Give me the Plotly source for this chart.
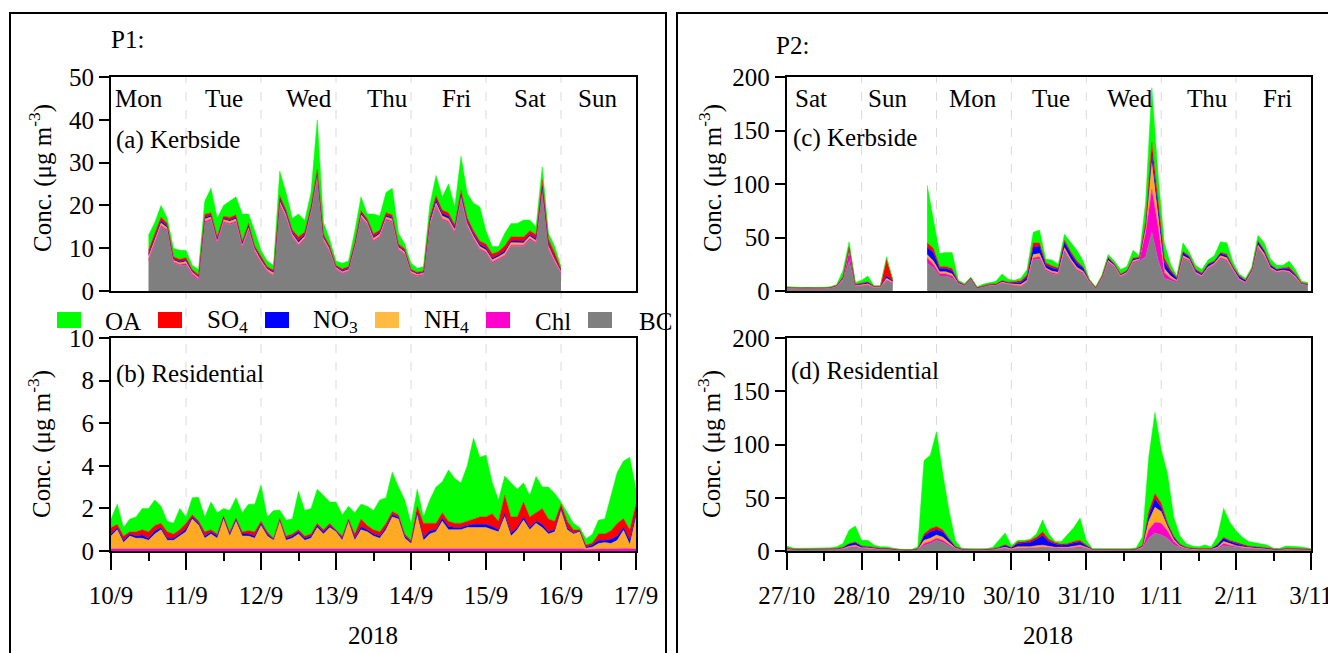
import plotly.graph_objects as go
import pandas as pd

W, H = 1328, 653
FONT = "Liberation Serif"

# ---------------- DATA ----------------
SPECIES = ["OA", "SO4", "NO3", "NH4", "Chl", "BC"]
COLORS = {"OA": "#00FF00", "SO4": "#FF0000", "NO3": "#0000FF",
          "NH4": "#FFAA22", "Chl": "#FF00CC", "BC": "#7F7F7F"}
LEGEND_COLORS = {"OA": "#00FF00", "SO4": "#FF0000", "NO3": "#0000FF",
                 "NH4": "#FFBB44", "Chl": "#FF00CC", "BC": "#7F7F7F"}
LEGEND_TEXT = ["OA", "SO<sub>4</sub>", "NO<sub>3</sub>", "NH<sub>4</sub>", "Chl", "BC"]

P1_DAYS = ["Mon", "Tue", "Wed", "Thu", "Fri", "Sat", "Sun"]
P2_DAYS = ["Sat", "Sun", "Mon", "Tue", "Wed", "Thu", "Fri"]
P1_TICKS = ["10/9", "11/9", "12/9", "13/9", "14/9", "15/9", "16/9", "17/9"]
P2_TICKS = ["27/10", "28/10", "29/10", "30/10", "31/10", "1/11", "2/11", "3/11"]
P1_TICKDATES = ["2018-09-%02d" % d for d in range(10, 18)]
P2_TICKDATES = ["2018-10-27", "2018-10-28", "2018-10-29", "2018-10-30",
                "2018-10-31", "2018-11-01", "2018-11-02", "2018-11-03"]

# (a) P1 kerbside, 2-hourly from 10/9 12:00
A_START = "2018-09-10 12:00"
A_BC = [7, 11, 15, 14, 6.5, 6,
        6, 3.5, 2.5, 16, 16.5, 11, 16, 15.5, 16, 10, 14, 9,
        6.5, 4.5, 3.5, 20, 17, 12.5, 10.5, 12, 18, 26, 11.5, 9,
        5, 4, 4.5, 10, 17, 15.5, 11.5, 12.5, 16.5, 16, 9.6, 8.5,
        4, 3.4, 3.7, 15, 19.7, 16.6, 16, 13.5, 21, 15, 12, 9.6,
        8.8, 6.5, 7.2, 8, 10.4, 10.4, 10.4, 12, 11, 23, 9.6, 6.5,
        4.1]
A_SO4 = [0.9, 0.8, 0.9, 0.6, 0.5, 0.5,
         0.6, 0.4, 0.4, 0.7, 0.6, 0.6, 0.5, 0.6, 0.6, 0.6, 0.6, 0.5,
         0.5, 0.4, 0.4, 0.8, 0.7, 0.6, 0.9, 0.6, 0.6, 0.7, 0.6, 0.5,
         0.3, 0.4, 0.4, 0.5, 0.6, 0.5, 0.7, 0.5, 0.6, 0.6, 0.5, 0.5,
         0.3, 0.3, 0.3, 0.8, 0.9, 0.8, 0.8, 0.7, 0.9, 0.8, 0.8, 0.8,
         0.9, 1.0, 0.8, 1.2, 1.0, 0.9, 1.0, 0.9, 1.0, 1.6, 1.2, 1.3,
         0.4]
A_NO3 = [0.5, 0.5, 0.5, 0.4, 0.3, 0.3,
         0.3, 0.2, 0.2, 0.4, 0.4, 0.3, 0.3, 0.3, 0.4, 0.3, 0.4, 0.3,
         0.3, 0.2, 0.3, 0.6, 0.5, 0.4, 0.5, 0.4, 0.5, 0.6, 0.4, 0.3,
         0.2, 0.3, 0.3, 0.3, 0.4, 0.3, 0.4, 0.4, 0.4, 0.4, 0.3, 0.3,
         0.2, 0.2, 0.2, 0.6, 0.8, 0.6, 0.6, 0.5, 0.7, 0.5, 0.5, 0.5,
         0.5, 0.4, 0.4, 0.5, 0.4, 0.4, 0.4, 0.4, 0.4, 0.5, 0.4, 0.3,
         0.2]
A_NH4 = [0.7, 0.6, 0.6, 0.5, 0.4, 0.4,
         0.5, 0.4, 0.4, 0.5, 0.5, 0.5, 0.5, 0.5, 0.5, 0.5, 0.5, 0.5,
         0.4, 0.4, 0.5, 0.6, 0.5, 0.5, 0.5, 0.5, 0.5, 0.7, 0.5, 0.4,
         0.3, 0.3, 0.3, 0.4, 0.5, 0.4, 0.5, 0.5, 0.5, 0.5, 0.4, 0.4,
         0.4, 0.3, 0.3, 0.5, 0.6, 0.6, 0.6, 0.5, 0.6, 0.5, 0.5, 0.5,
         0.5, 0.5, 0.5, 0.6, 0.6, 0.6, 0.5, 0.5, 0.5, 0.6, 0.6, 0.5,
         0.3]
A_CHL = [0.4, 0.3, 0.3, 0.3, 0.3, 0.2,
         0.4, 0.5, 0.3, 0.3, 0.3, 0.3, 0.2, 0.3, 0.3, 0.3, 0.3, 0.3,
         0.3, 0.2, 0.2, 0.3, 0.3, 0.3, 0.3, 0.3, 0.3, 0.4, 0.3, 0.3,
         0.2, 0.2, 0.2, 0.2, 0.3, 0.2, 0.3, 0.3, 0.3, 0.3, 0.2, 0.2,
         0.2, 0.2, 0.2, 0.3, 0.3, 0.3, 0.3, 0.3, 0.3, 0.3, 0.3, 0.3,
         0.3, 0.3, 0.3, 0.3, 0.3, 0.3, 0.3, 0.3, 0.3, 0.3, 0.3, 0.3,
         0.2]
A_OA = [3.5, 2.8, 2.7, 1.2, 2.0, 2.1,
        1.7, 1.0, 1.2, 3.1, 5.7, 4.3, 2.5, 3.8, 4.2, 6.3, 2.2, 3.4,
        1.5, 1.3, 1.1, 5.7, 4.0, 2.7, 5.3, 2.7, 3.1, 11.6, 2.7, 1.5,
        1.0, 1.3, 1.3, 2.6, 3.2, 1.1, 4.6, 3.3, 4.7, 6.2, 2.5, 1.1,
        1.4, 0.9, 1.0, 2.8, 4.7, 3.1, 6.7, 4.2, 8.0, 5.7, 6.4, 8.0,
        3.0, 1.7, 1.2, 2.9, 3.1, 3.2, 4.0, 2.5, 1.8, 3.0, 1.4, 1.5,
        0.5]

# (b) P1 residential, 2-hourly from 10/9 00:00
B_START = "2018-09-10 00:00"
B_OA = [0.4, 0.95, 0.4, 0.6, 0.7, 1.0, 1.1, 1.2, 0.8, 0.5, 0.5, 1.0,
        0.3, 0.8, 1.1, 0.7, 1.3, 1.0, 0.35, 1.0, 0.95, 0.9, 1.25, 1.3,
        1.7, 0.7, 1.3, 0.4, 0.75, 0.7, 1.8, 1.2, 1.2, 1.6, 1.6, 1.0,
        1.3, 1.0, 0.6, 1.0, 0.7, 0.9, 0.9, 1.5, 1.2, 1.85, 1.3, 1.6,
        0.8, 0.8, 0.3, 1.1, 1.7, 1.45, 2.4, 2.1, 1.9, 2.6, 3.8, 2.8,
        2.9, 1.45, 1.0, 0.9, 1.6, 1.3, 0.9, 1.0, 1.7, 1.0, 1.5, 1.3,
        0.1, 0.4, 0.3, 0.1, 0.3, 0.4, 0.65, 0.7, 1.65, 2.4, 2.7, 3.4,
        0.7]
B_SO4 = [0.3, 0.15, 0.2, 0.1, 0.2, 0.25, 0.3, 0.25, 0.2, 0.3, 0.2, 0.2,
         0.25, 0.1, 0.1, 0.2, 0.1, 0.1, 0.05, 0.1, 0.05, 0.1, 0.15, 0.2,
         0.1, 0.1, 0.05, 0.05, 0.1, 0.1, 0.1, 0.1, 0.1, 0.1, 0.1, 0.1,
         0.05, 0.1, 0.05, 0.2, 0.35, 0.2, 0.2, 0.2, 0.2, 0.15, 0.1, 0.1,
         0.1, 0.3, 0.65, 0.35, 0.3, 0.25, 0.25, 0.2, 0.2, 0.2, 0.25, 0.35,
         0.35, 0.6, 0.4, 0.85, 0.75, 0.5, 0.7, 0.5, 0.4, 0.75, 0.6, 0.4,
         0.2, 0.3, 0.15, 0.05, 0.1, 0.1, 0.3, 0.3, 0.4, 0.6, 0.4, 0.5,
         0.45]
B_NO3 = [0.1, 0.1, 0.1, 0.1, 0.1, 0.15, 0.1, 0.15, 0.1, 0.1, 0.1, 0.1,
         0.15, 0.1, 0.1, 0.1, 0.1, 0.1, 0.1, 0.1, 0.1, 0.1, 0.1, 0.1,
         0.1, 0.1, 0.05, 0.05, 0.1, 0.1, 0.1, 0.1, 0.1, 0.1, 0.1, 0.1,
         0.05, 0.1, 0.05, 0.1, 0.15, 0.1, 0.1, 0.1, 0.1, 0.1, 0.1, 0.1,
         0.05, 0.1, 0.15, 0.15, 0.1, 0.15, 0.15, 0.1, 0.1, 0.1, 0.15, 0.15,
         0.15, 0.15, 0.1, 0.15, 0.15, 0.1, 0.15, 0.1, 0.1, 0.15, 0.1, 0.1,
         0.1, 0.1, 0.05, 0.05, 0.05, 0.1, 0.15, 0.1, 0.2, 0.2, 0.15, 0.2,
         0.15]
B_NH4 = [0.6, 0.9, 0.3, 0.6, 0.5, 0.5, 0.4, 0.7, 0.9, 0.4, 0.4, 0.6,
         0.8, 1.4, 1.1, 0.5, 0.7, 0.5, 1.4, 0.6, 1.3, 0.6, 0.6, 0.5,
         1.1, 0.6, 0.4, 1.3, 0.4, 0.5, 0.7, 0.4, 0.5, 1.0, 0.7, 1.0,
         0.8, 0.4, 1.3, 0.4, 0.9, 0.8, 0.6, 0.5, 0.9, 1.5, 1.4, 0.5,
         0.25, 1.6, 0.4, 0.7, 0.8, 1.3, 0.9, 0.9, 0.9, 1.0, 1.0, 1.0,
         1.0, 0.9, 0.8, 1.5, 0.6, 0.9, 1.35, 0.9, 1.2, 1.0, 0.7, 0.8,
         1.8, 0.9, 0.7, 0.8, 0.05, 0.1, 0.25, 0.3, 0.25, 0.4, 0.85, 0.2,
         1.5]
B_CHL = [0.1, 0.1, 0.1, 0.1, 0.1, 0.1, 0.1, 0.1, 0.1, 0.1, 0.1, 0.1,
         0.1, 0.1, 0.12, 0.1, 0.1, 0.1, 0.1, 0.1, 0.1, 0.1, 0.1, 0.1,
         0.1, 0.1, 0.1, 0.12, 0.1, 0.1, 0.1, 0.1, 0.1, 0.1, 0.1, 0.1,
         0.1, 0.1, 0.1, 0.1, 0.1, 0.1, 0.1, 0.1, 0.1, 0.1, 0.1, 0.1,
         0.1, 0.1, 0.1, 0.1, 0.1, 0.1, 0.1, 0.1, 0.1, 0.1, 0.1, 0.1,
         0.1, 0.1, 0.1, 0.12, 0.1, 0.1, 0.1, 0.1, 0.1, 0.1, 0.1, 0.1,
         0.1, 0.1, 0.1, 0.1, 0.08, 0.08, 0.1, 0.1, 0.1, 0.1, 0.12, 0.1,
         0.1]

# (c) P2 kerbside, segment 1: 2-hourly from 27/10 00:00
C1_START = "2018-10-27 00:00"
C1_BC = [2.5, 2.5, 2.2, 2.0, 2.0, 2.0, 2.2, 2.5, 4.0, 9.0, 28, 4, 4.5, 5, 3, 3, 9, 7]
C1_CHL = [0.2, 0.2, 0.2, 0.2, 0.2, 0.2, 0.2, 0.2, 0.3, 1.0, 9, 0.5, 0.5, 0.7, 0.3, 0.3, 1, 0.5]
C1_NH4 = [0.3, 0.3, 0.2, 0.2, 0.2, 0.2, 0.2, 0.3, 0.4, 1.0, 2, 0.6, 0.8, 1.0, 0.4, 0.4, 2, 1]
C1_NO3 = [0.3, 0.3, 0.3, 0.2, 0.2, 0.2, 0.3, 0.3, 0.4, 1.5, 1.5, 0.8, 1.0, 1.5, 0.5, 0.5, 2, 1]
C1_SO4 = [0.2, 0.2, 0.1, 0.1, 0.1, 0.1, 0.1, 0.2, 0.2, 0.5, 1, 0.3, 0.4, 0.5, 0.3, 0.3, 15, 0.5]
C1_OA = [0.5, 0.5, 0.5, 0.3, 0.3, 0.3, 0.5, 0.5, 0.7, 6.0, 4.5, 1.8, 2.8, 5.3, 0.5, 0.5, 3, 1]

# (c) P2 kerbside, segment 2: 2-hourly from 28/10 21:00
C2_START = "2018-10-28 21:00"
C2_BC = [26, 22, 14, 14, 12, 6, 4.5, 11, 2.5, 4, 5, 5, 7, 6, 5, 4, 8, 29, 30, 19,
         16, 15, 36, 27, 19, 16, 8, 2.5, 11, 26, 22, 13, 16, 26, 28, 32, 55, 29, 12, 10,
         8, 30, 28, 16, 13, 21, 24, 30, 28, 19, 10, 7, 17, 40, 32, 20, 17, 18, 17, 12,
         5.5, 5]
C2_CHL = [5, 3, 2, 2, 2, 0.5, 0.3, 0.3, 0.2, 0.3, 0.3, 0.3, 0.5, 0.4, 0.5, 0.5, 0.5, 2, 2, 1,
          1, 1, 1.5, 1, 1, 1, 0.5, 0.2, 0.5, 1, 0.8, 0.5, 0.6, 1, 1, 22, 40, 31, 5, 2,
          1, 1, 0.8, 0.5, 0.5, 0.5, 0.8, 1, 1, 0.8, 0.5, 0.4, 0.5, 1, 1, 0.8, 0.5, 0.5, 0.5, 0.5,
          0.3, 0.3]
C2_NH4 = [3, 3, 2, 2, 2, 0.8, 0.3, 0.3, 0.2, 0.3, 0.4, 0.4, 0.8, 0.6, 1, 1.5, 1.5, 3, 3, 1.5,
          1.5, 1.5, 3, 2, 2, 1.5, 0.5, 0.2, 0.8, 1.5, 1, 1, 1, 1.5, 1, 4.5, 25, 12.5, 4, 2,
          1, 2, 1, 1, 1, 1, 1.2, 2, 2, 1, 1, 0.8, 1, 2, 2, 1.2, 1, 1, 1, 1,
          0.5, 0.4]
C2_NO3 = [7, 8, 3, 3, 3, 1, 0.4, 0.3, 0.2, 0.3, 0.4, 0.5, 1, 0.8, 1, 2, 3, 7, 7, 3,
          3, 2.5, 5, 5, 4, 3, 0.8, 0.2, 0.8, 2, 1.2, 1, 1, 1.5, 1, 3, 8, 6, 6, 4,
          2, 3, 2, 2, 1.5, 2, 1.5, 2, 2, 1.5, 2, 1.5, 1, 3, 2.5, 2, 1.5, 1.5, 2, 1.5,
          0.8, 0.6]
C2_SO4 = [4, 4, 2, 2, 2, 0.5, 0.3, 0.3, 0.2, 0.3, 0.3, 0.3, 0.5, 0.4, 1.2, 1.5, 2, 4, 3, 2,
          2, 1.5, 2, 2, 2, 1, 0.4, 0.2, 0.4, 1, 0.5, 0.5, 0.5, 1, 0.5, 3, 11, 6, 4, 2,
          0.5, 1, 1, 1, 0.8, 1, 0.5, 1, 1.5, 0.7, 1, 0.5, 0.5, 1, 1, 1, 0.5, 0.5, 2, 1,
          0.4, 0.3]
C2_OA = [54, 25, 12, 13, 15, 1.2, 1.2, 0.8, 0.7, 1.3, 1.6, 2.5, 6.2, 2.8, 1.3, 2.5, 5, 10, 12, 3.5,
         5.5, 3.5, 5.5, 8, 10, 5.5, 0.8, 0.7, 1.5, 2.5, 2.5, 4, 3.9, 7, 1.5, 18.5, 51, 23.5, 14, 5,
         1.5, 8, 3.2, 3.5, 3.2, 3.5, 5, 10, 10.5, 4, 1.5, 1.8, 2, 5, 6.5, 5, 3.5, 2.5, 5.5, 4,
         1.5, 1.4]

# (d) P2 residential, 2-hourly from 27/10 00:00
D_START = "2018-10-27 00:00"
D_BC = [1.5, 1.0, 1.0, 1.0, 1.0, 1.0, 1.0, 1.0, 1.2, 1.5, 3, 3, 2, 2, 1.5, 1.2, 1.2, 1.0,
        0.6, 0.6, 0.6, 1.0, 5, 7, 10, 8, 5, 2, 1, 0.8, 0.8, 0.8, 0.8, 1.0, 1.5, 2,
        1.2, 2, 2, 2, 2.5, 3, 2.5, 2, 2, 2, 2.5, 3, 2, 0.8, 0.8, 0.8, 0.8, 0.8,
        0.8, 0.8, 1.0, 2, 12, 17, 15, 12, 6, 3, 1.5, 1.2, 1.0, 1.2, 1.0, 2, 5, 4,
        3, 2.5, 2, 1.8, 1.5, 1.3, 0.8, 0.8, 1.2, 1.2, 1.0, 1.0, 0.8]
D_CHL = [0.3, 0.2, 0.2, 0.2, 0.2, 0.2, 0.2, 0.2, 0.2, 0.3, 0.5, 1, 0.5, 0.5, 0.3, 0.2, 0.2, 0.2,
         0.1, 0.1, 0.1, 0.2, 2, 2, 2, 2, 1, 0.5, 0.2, 0.2, 0.2, 0.2, 0.2, 0.2, 0.3, 0.5,
         0.3, 0.5, 0.5, 0.5, 0.5, 0.5, 0.5, 0.5, 0.5, 0.5, 0.5, 1, 0.5, 0.2, 0.2, 0.2, 0.2, 0.2,
         0.2, 0.2, 0.2, 0.8, 8, 10, 11, 7, 3, 1, 0.5, 0.3, 0.3, 0.3, 0.3, 0.5, 2, 1.5,
         1, 0.5, 0.5, 0.4, 0.4, 0.3, 0.2, 0.2, 0.3, 0.3, 0.3, 0.2, 0.2]
D_NH4 = [0.3, 0.2, 0.2, 0.2, 0.2, 0.2, 0.2, 0.2, 0.3, 0.5, 1, 1.5, 0.5, 0.5, 0.3, 0.3, 0.3, 0.2,
         0.1, 0.1, 0.1, 0.3, 3, 3, 3, 3, 2, 0.5, 0.2, 0.2, 0.2, 0.2, 0.2, 0.3, 0.5, 1,
         0.5, 1.5, 1.5, 1.5, 2, 2, 1.5, 1, 1, 1, 1.5, 1.5, 1, 0.2, 0.2, 0.2, 0.2, 0.2,
         0.2, 0.2, 0.3, 1, 8, 14, 11, 4, 2, 1, 0.5, 0.3, 0.3, 0.3, 0.3, 1, 2, 1.5,
         1, 1, 0.7, 0.6, 0.5, 0.4, 0.2, 0.2, 0.3, 0.3, 0.3, 0.3, 0.2]
D_NO3 = [0.5, 0.3, 0.3, 0.3, 0.3, 0.3, 0.3, 0.4, 0.5, 1.0, 2, 2.5, 1.5, 1, 0.8, 0.6, 0.6, 0.4,
         0.3, 0.2, 0.2, 0.5, 4, 6, 5, 5, 3, 1, 0.4, 0.3, 0.3, 0.3, 0.3, 0.5, 1.0, 2,
         1, 3, 3.5, 4, 6, 9, 4.5, 3, 2, 2.5, 3, 3, 1.5, 0.4, 0.4, 0.3, 0.3, 0.3,
         0.3, 0.3, 0.4, 1, 5, 8, 4, 2, 2, 1, 0.7, 0.5, 0.5, 0.6, 0.5, 2, 3, 2,
         2, 1.5, 1, 1, 0.8, 0.7, 0.4, 0.4, 0.6, 0.6, 0.5, 0.4, 0.3]
D_SO4 = [0.3, 0.2, 0.2, 0.2, 0.2, 0.2, 0.2, 0.2, 0.2, 0.3, 0.5, 0.5, 0.3, 0.3, 0.2, 0.2, 0.2, 0.2,
         0.1, 0.1, 0.1, 0.2, 2, 3, 3, 2, 1, 0.5, 0.2, 0.1, 0.1, 0.1, 0.1, 0.2, 0.3, 0.5,
         0.3, 1.5, 1.2, 2, 2, 3.5, 2, 1.5, 1, 1, 1.5, 1.5, 0.7, 0.1, 0.1, 0.1, 0.1, 0.1,
         0.1, 0.1, 0.2, 0.5, 4, 5, 4, 1.5, 1, 0.5, 0.3, 0.2, 0.2, 0.2, 0.2, 0.5, 1, 1,
         1, 0.5, 0.4, 0.4, 0.3, 0.3, 0.1, 0.1, 0.2, 0.2, 0.2, 0.2, 0.1]
D_OA = [1.8, 0.8, 0.6, 0.6, 0.6, 0.8, 0.8, 1.0, 1.6, 3.4, 12.7, 15, 5.2, 5.7, 2.5, 1.5, 1.5, 0.5,
        0.4, 0.4, 0.4, 1.8, 69, 69, 89, 53, 26, 5.5, 0.5, 0.4, 0.4, 0.4, 0.5, 1.3, 6.4, 11,
        1.7, 1.5, 1.3, 1, 3, 11, 5, 1, 2.5, 9, 13, 21, 4.3, 0.5, 0.5, 0.4, 0.4, 0.5,
        0.6, 0.6, 0.9, 8, 51, 76, 50, 46.5, 18, 7.5, 3.5, 2.2, 1.7, 3, 1.7, 7.5, 27, 17,
        11, 7, 4.4, 3.6, 3.5, 2.6, 0.8, 0.8, 2.1, 2.1, 1.7, 1.3, 0.6]

# ---------------- LAYOUT GEOMETRY (pixels) ----------------
def px(x):
    return x / W


def py(y):
    return 1 - y / H


LX = (111, 636)      # P1 plot x extent
RX = (786.7, 1311)   # P2 plot x extent
TOP = (77, 291)
BOT = (338, 551)

fig = go.Figure()


def add_stack(xaxis, yaxis, start, group, series, hour_step="2h"):
    n = len(next(iter(series.values())))
    x = pd.date_range(start, periods=n, freq=hour_step)
    for sp in ["BC", "Chl", "NH4", "NO3", "SO4", "OA"]:
        if sp not in series:
            continue
        fig.add_trace(go.Scatter(
            x=x, y=series[sp], xaxis=xaxis, yaxis=yaxis, mode="lines",
            stackgroup=group, line=dict(width=0.5, color=COLORS[sp]),
            fillcolor=COLORS[sp], name=sp, showlegend=False, hoverinfo="skip"))


add_stack("x", "y", A_START, "a", {"BC": A_BC, "Chl": A_CHL, "NH4": A_NH4,
                                    "NO3": A_NO3, "SO4": A_SO4, "OA": A_OA})
add_stack("x2", "y2", B_START, "b", {"Chl": B_CHL, "NH4": B_NH4,
                                      "NO3": B_NO3, "SO4": B_SO4, "OA": B_OA})
add_stack("x3", "y3", C1_START, "c1", {"BC": C1_BC, "Chl": C1_CHL, "NH4": C1_NH4,
                                        "NO3": C1_NO3, "SO4": C1_SO4, "OA": C1_OA})
add_stack("x3", "y3", C2_START, "c2", {"BC": C2_BC, "Chl": C2_CHL, "NH4": C2_NH4,
                                        "NO3": C2_NO3, "SO4": C2_SO4, "OA": C2_OA})
add_stack("x4", "y4", D_START, "d", {"BC": D_BC, "Chl": D_CHL, "NH4": D_NH4,
                                      "NO3": D_NO3, "SO4": D_SO4, "OA": D_OA})

axis_line = dict(showline=True, linewidth=2, linecolor="black", mirror=True,
                 showgrid=False, zeroline=False, automargin=False)


def yax(dom, rng, dt, anchor):
    return dict(domain=[py(dom[1]), py(dom[0])], range=rng, dtick=dt, tick0=0,
                ticks="outside", ticklen=10, tickwidth=2, tickcolor="black",
                anchor=anchor, tickfont=dict(size=25), **axis_line)


def xtop(dom, rng, anchor):
    return dict(domain=[px(dom[0]), px(dom[1])], range=rng, type="date",
                showticklabels=False, ticks="", anchor=anchor, **axis_line)


def xbot(dom, rng, anchor, tickdates, ticktext):
    return dict(domain=[px(dom[0]), px(dom[1])], range=rng, type="date",
                tickvals=tickdates, ticktext=ticktext, ticks="outside",
                ticklen=17, tickwidth=2, tickcolor="black", anchor=anchor,
                tickfont=dict(size=25), ticklabeloverflow="allow",
                ticklabelstandoff=4,
                minor=dict(ticks="outside", ticklen=8, tickwidth=2, tickcolor="black",
                           dtick=43200000, tick0=rng[0]),
                **axis_line)


P1R = ["2018-09-10", "2018-09-17"]
P2R = ["2018-10-27", "2018-11-03"]

fig.update_layout(
    width=W, height=H, autosize=False,
    margin=dict(l=0, r=0, t=0, b=0, pad=0, autoexpand=False),
    paper_bgcolor="white", plot_bgcolor="white", showlegend=False,
    font=dict(family=FONT, size=25, color="black"),
    xaxis=xtop(LX, P1R, "y"), yaxis=yax(TOP, [0, 50], 10, "x"),
    xaxis2=xbot(LX, P1R, "y2", P1_TICKDATES, P1_TICKS), yaxis2=yax(BOT, [0, 10], 2, "x2"),
    xaxis3=xtop(RX, P2R, "y3"), yaxis3=yax(TOP, [0, 200], 50, "x3"),
    xaxis4=xbot(RX, P2R, "y4", P2_TICKDATES, P2_TICKS), yaxis4=yax(BOT, [0, 200], 50, "x4"),
)

shapes = []
# dashed day separators spanning both plots of each panel
for d in P1_TICKDATES[1:-1]:
    shapes.append(dict(type="line", xref="x", yref="paper", x0=d, x1=d,
                       y0=py(BOT[1]), y1=py(TOP[0]), layer="below",
                       line=dict(color="#DADADA", width=1, dash="dash")))
for d in P2_TICKDATES[1:-1]:
    shapes.append(dict(type="line", xref="x3", yref="paper", x0=d, x1=d,
                       y0=py(BOT[1]), y1=py(TOP[0]), layer="below",
                       line=dict(color="#DADADA", width=1, dash="dash")))
# panel frames
shapes.append(dict(type="rect", xref="paper", yref="paper", x0=px(10), x1=px(666),
                   y0=py(670), y1=py(13), line=dict(color="black", width=2)))
shapes.append(dict(type="rect", xref="paper", yref="paper", x0=px(677), x1=px(1345),
                   y0=py(670), y1=py(13), line=dict(color="black", width=2)))

annotations = []


def text(x, y, s, xanchor="left", size=25, angle=0):
    annotations.append(dict(x=px(x), y=py(y), xref="paper", yref="paper", text=s,
                            showarrow=False, xanchor=xanchor, yanchor="middle",
                            textangle=angle, font=dict(family=FONT, size=size, color="black")))


# legend
LEG_BOX_X = [57, 158, 265, 375, 486, 588]
LEG_TXT_X = [103, 205, 311, 422, 533, 637]
for sp, lbl, bx, tx in zip(SPECIES, LEGEND_TEXT, LEG_BOX_X, LEG_TXT_X):
    shapes.append(dict(type="rect", xref="paper", yref="paper", x0=px(bx), x1=px(bx + 24),
                       y0=py(328), y1=py(312), fillcolor=LEGEND_COLORS[sp], line=dict(width=0)))
    text(tx, 321, lbl)

# day labels (centres in days from panel start)
P1_DAY_POS = [0.37, 1.5, 2.64, 3.69, 4.61, 5.59, 6.48]
P2_DAY_POS = [0.33, 1.35, 2.48, 3.52, 4.58, 5.61, 6.55]
for lbl, p in zip(P1_DAYS, P1_DAY_POS):
    text(LX[0] + 75 * p, 99, lbl, xanchor="center")
for lbl, p in zip(P2_DAYS, P2_DAY_POS):
    text(RX[0] + 75 * p, 99, lbl, xanchor="center")

text(114, 140, "(a) Kerbside")
text(114, 374, "(b) Residential")
text(791, 138, "(c) Kerbside")
text(789, 371, "(d) Residential")
text(109, 40, "P1:")
text(774, 45, "P2:")
text(373, 635, "2018", xanchor="center")
text(1048, 635, "2018", xanchor="center")

YT = "Conc. (\u03bcg m<sup>-3</sup>)"
for xx, yy in [(40, 178), (40, 444), (710, 178), (710, 444)]:
    text(xx, yy, YT, xanchor="center", angle=-90)

fig.update_layout(shapes=shapes, annotations=annotations)
fig.write_html("out.html")
